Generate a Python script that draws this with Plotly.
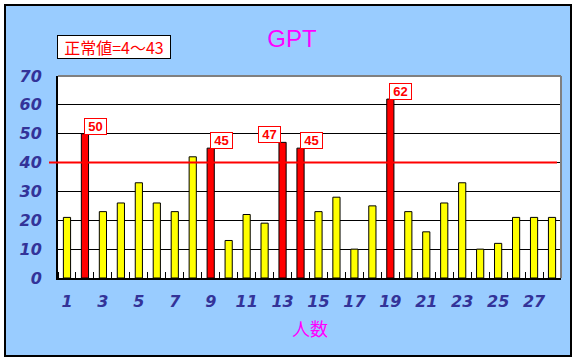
import plotly.graph_objects as go

# ---- data ----
categories = list(range(1, 29))
values = [21, 50, 23, 26, 33, 26, 23, 42, 45, 13, 22, 19, 47, 45,
          23, 28, 10, 25, 62, 23, 16, 26, 33, 10, 12, 21, 21, 21]
normal_upper = 43
ref_line = 40
x_tick_vals = list(range(1, 29, 2))
y_tick_vals = [0, 10, 20, 30, 40, 50, 60, 70]
title_text = "GPT"
x_title = "人数"
normal_label = "正常値=4～43"

# ---- layout geometry (pixels) ----
W, H = 577, 361
ML, MR, MT, MB = 58, 16, 76, 83
PW, PH = W - ML - MR, H - MT - MB


def px_x(p):
    return (p - ML) / PW


def px_y(p):
    return (H - MB - p) / PH


colors = ["#FF0000" if v > normal_upper else "#FFFF00" for v in values]

fig = go.Figure()
fig.add_trace(go.Bar(
    x=categories, y=values, width=0.4,
    marker=dict(color=colors, line=dict(color="black", width=1)),
    showlegend=False, hoverinfo="x+y",
))

tick_font = dict(family="DejaVu Sans", size=16, color="#333399",
                 weight="bold", style="italic")

fig.update_layout(
    width=W, height=H,
    margin=dict(l=ML, r=MR, t=MT, b=MB, pad=0),
    paper_bgcolor="white",
    plot_bgcolor="rgba(0,0,0,0)",
    bargap=0.6,
    title=dict(text=title_text, x=292 / W, y=1 - 39 / H,
               xref="container", yref="container",
               xanchor="center", yanchor="middle",
               font=dict(family="Liberation Sans", size=24, color="#FF00FF")),
    xaxis=dict(
        range=[0.5, 28.5], tickvals=x_tick_vals,
        ticktext=[str(v) for v in x_tick_vals],
        showgrid=False, zeroline=False,
        showline=True, linecolor="black", linewidth=2,
        ticks="", tickfont=tick_font, ticklabelstandoff=8,
        minor=dict(ticks="inside", ticklen=6, tickcolor="black",
                   tickwidth=1, tick0=0.5, dtick=1, showgrid=False),
        automargin=False, fixedrange=True,
    ),
    yaxis=dict(
        range=[0, 70], tickvals=y_tick_vals,
        ticktext=[str(v) for v in y_tick_vals],
        showgrid=True, gridcolor="black", gridwidth=1,
        zeroline=False,
        showline=True, linecolor="black", linewidth=2,
        ticks="", tickfont=tick_font, ticklabelstandoff=11,
        automargin=False, fixedrange=True,
    ),
)

shapes = [
    # outer light-blue chart area with black frame
    dict(type="rect", xref="paper", yref="paper", layer="below",
         x0=px_x(5), x1=px_x(571), y0=px_y(356), y1=px_y(5),
         fillcolor="#99CCFF", line=dict(color="black", width=2)),
    # white plot area
    dict(type="rect", xref="paper", yref="paper", layer="below",
         x0=0, x1=1, y0=0, y1=1, fillcolor="white",
         line=dict(width=0)),
    # gray top and right border
    dict(type="line", xref="paper", yref="paper", layer="above",
         x0=0, x1=1, y0=1, y1=1, line=dict(color="#808080", width=2)),
    dict(type="line", xref="paper", yref="paper", layer="above",
         x0=1, x1=1, y0=0, y1=1, line=dict(color="#808080", width=2)),
    # red reference line
    dict(type="line", xref="paper", yref="y", layer="above",
         x0=px_x(49), x1=px_x(557), y0=ref_line, y1=ref_line,
         line=dict(color="#FF0000", width=2)),
]
fig.update_layout(shapes=shapes)

annotations = []
for i, (c, v) in enumerate(zip(categories, values)):
    if v > normal_upper:
        nxt_red = i + 1 < len(values) and values[i + 1] > normal_upper
        annotations.append(dict(
            x=c, y=v, xref="x", yref="y", text=str(v), showarrow=False,
            xanchor="right" if nxt_red else "left", yanchor="bottom",
            xshift=-2 if nxt_red else -1, yshift=-1,
            width=17, height=11,
            font=dict(family="Liberation Sans", size=13, color="#FF0000",
                      weight="bold"),
            bgcolor="white", bordercolor="#FF0000", borderwidth=1,
            borderpad=2,
        ))
annotations.append(dict(
    x=px_x(57), y=px_y(35), xref="paper", yref="paper",
    text=normal_label, showarrow=False, xanchor="left", yanchor="top",
    width=110, height=20, align="center",
    font=dict(family="Noto Sans CJK JP", size=16, color="#FF0000"),
    bgcolor="white", bordercolor="black", borderwidth=1, borderpad=1,
))
annotations.append(dict(
    x=0.5, y=px_y(327.5), xref="paper", yref="paper",
    text=x_title, showarrow=False, xanchor="center", yanchor="middle",
    font=dict(family="Noto Sans CJK JP", size=18, color="#FF00FF"),
))
fig.update_layout(annotations=annotations)

fig.write_html("out.html")
